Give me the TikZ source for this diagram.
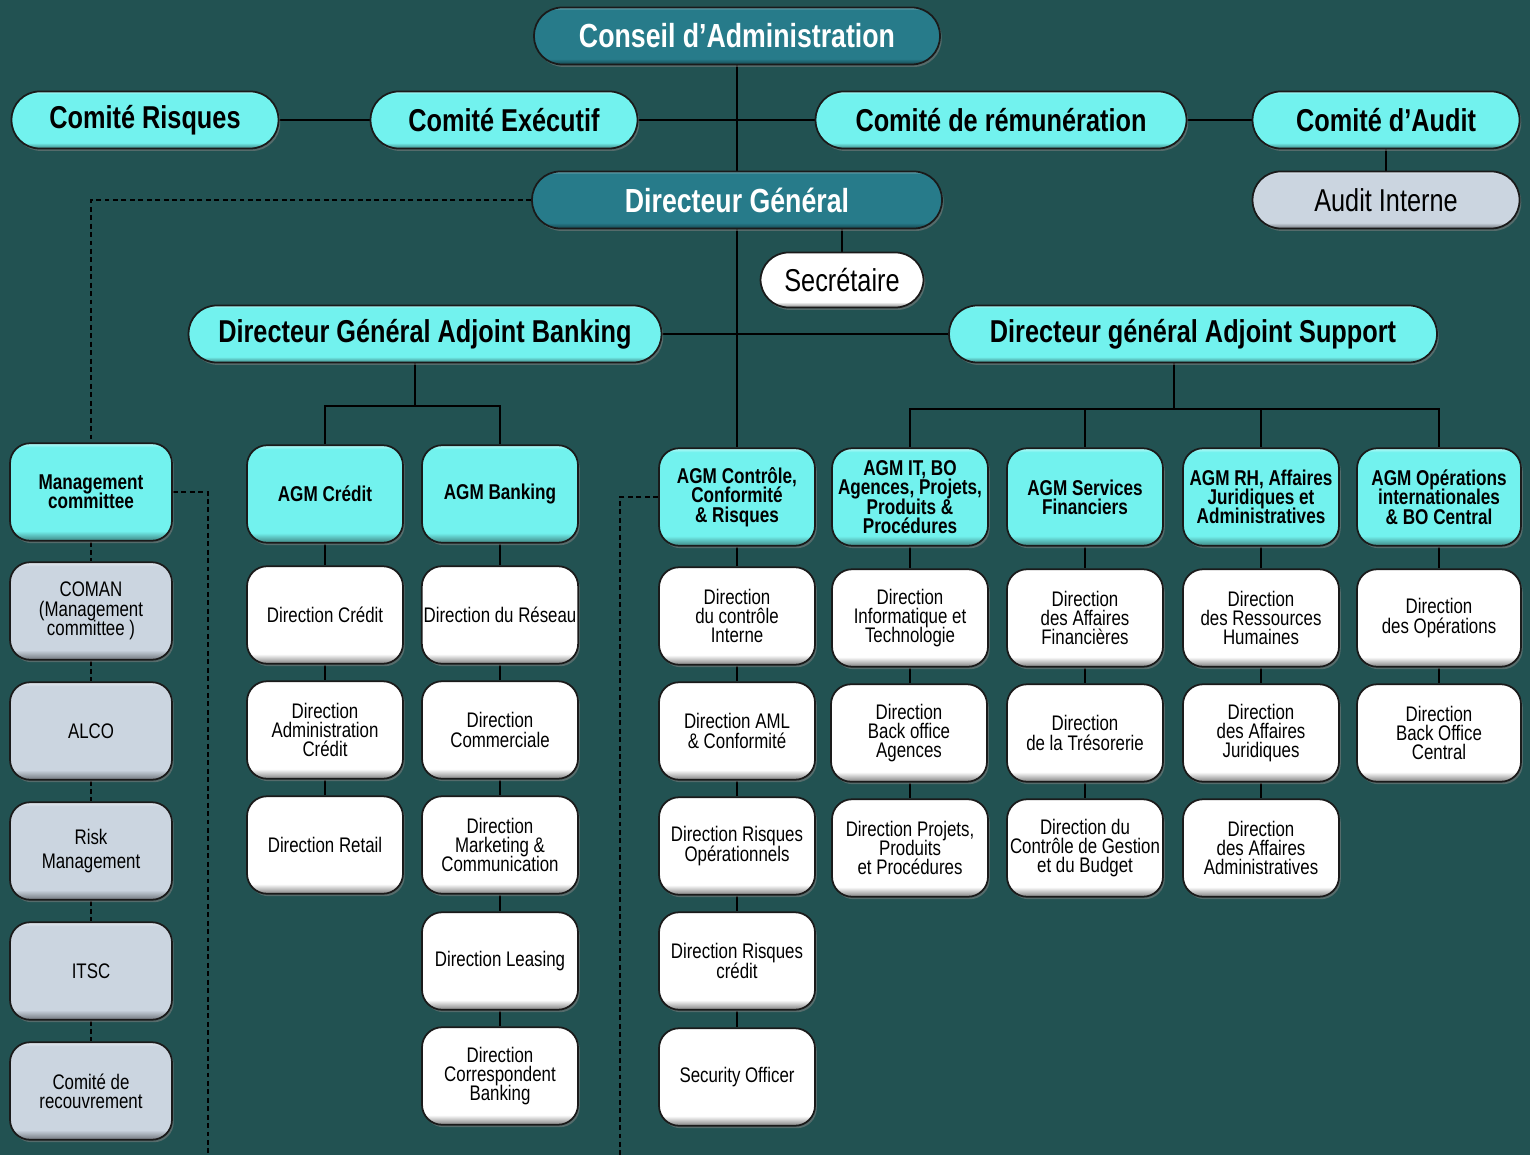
\documentclass[tikz,border=0pt]{standalone}
\usepackage{fontspec}
\setmainfont{Liberation Sans}[FakeStretch=0.8]
\usetikzlibrary{shadows}
\definecolor{bg}{HTML}{225252}
\definecolor{cyanbox}{HTML}{72F2EE}
\definecolor{tealbox}{HTML}{277B8A}
\definecolor{graybox}{HTML}{CBD5E0}
\definecolor{whitebox}{HTML}{FFFFFF}
\definecolor{edge}{HTML}{1A1A1A}
\newcommand\tightls{\lineskiplimit -50pt\relax}
\pgfdeclarelayer{background}
\pgfsetlayers{background,main}
\pgfdeclareverticalshading{shcyan}{100bp}{color(0bp)=(cyanbox!55!black); color(25bp)=(cyanbox!55!black); color(30bp)=(cyanbox); color(73bp)=(cyanbox); color(75bp)=(cyanbox!50!white); color(100bp)=(cyanbox!50!white)}
\pgfdeclareverticalshading{shteal}{100bp}{color(0bp)=(tealbox!55!black); color(25bp)=(tealbox!55!black); color(30bp)=(tealbox); color(73bp)=(tealbox); color(75bp)=(tealbox!60!white); color(100bp)=(tealbox!60!white)}
\pgfdeclareverticalshading{shgray}{100bp}{color(0bp)=(graybox!55!black); color(25bp)=(graybox!55!black); color(30bp)=(graybox); color(73bp)=(graybox); color(75bp)=(graybox!50!white); color(100bp)=(graybox!50!white)}
\pgfdeclareverticalshading{shwhite}{100bp}{color(0bp)=(white!50!black); color(25bp)=(white!50!black); color(30bp)=(white); color(100bp)=(white)}
\tikzset{
  shbase/.style={draw=edge, line width=1pt, align=center, inner sep=1pt,
    drop shadow={shadow xshift=1pt, shadow yshift=-1.4pt, opacity=0.55}},
  box/.style={shbase, rounded corners=0.4cm, minimum width=3.12cm, minimum height=1.95cm},
  agmfont/.style={font=\fontsize{12.2}{11}\selectfont\bfseries\tightls},
  dirfont/.style={font=\fontsize{12}{11}\selectfont\tightls},
  agm/.style={box, shade, shading=shcyan, agmfont},
  dir/.style={box, shade, shading=shwhite, dirfont},
  comm/.style={box, shade, shading=shgray, minimum width=3.24cm, dirfont},
  pill/.style={shbase, rounded corners=0.56cm, minimum height=1.14cm},
  pillcyan/.style={pill, shade, shading=shcyan, font=\fontsize{18}{20}\selectfont\bfseries},
  pillteal/.style={pill, shade, shading=shteal, text=white, font=\fontsize{19}{20}\selectfont\bfseries},
  pillgray/.style={pill, shade, shading=shgray, font=\fontsize{18}{20}\selectfont},
  pillwhite/.style={pill, shade, shading=shwhite, font=\fontsize{18}{20}\selectfont},
  conn/.style={draw=black, line width=1.1pt},
  dotline/.style={draw=black, line width=1.1pt, dash pattern=on 2.8pt off 2pt},
}
\begin{document}
\begin{tikzpicture}[x=0.02cm, y=-0.02cm]
\begin{pgfonlayer}{background}
\fill[bg] (0,0) rectangle (1530,1155);
\end{pgfonlayer}
\useasboundingbox (0,0) rectangle (1530,1155);
% top level
\node[pillteal, minimum width=8.12cm] (conseil) at (737,36) {Conseil d’Administration};
\node[pillcyan, minimum width=5.34cm] (crisk) at (145,120) {Comité Risques};
\node[pillcyan, minimum width=5.34cm] (cexec) at (504,120) {Comité Exécutif};
\node[pillcyan, minimum width=7.42cm] (crem) at (1001,120) {Comité de rémunération};
\node[pillcyan, minimum width=5.34cm] (caudit) at (1386,120) {Comité d’Audit};
\node[pillgray, minimum width=5.34cm] (audint) at (1386,200) {Audit Interne};
\node[pillteal, minimum width=8.2cm] (dg) at (737,200) {Directeur Général};
\node[pillwhite, minimum width=3.26cm, minimum height=1.1cm] (secr) at (842,280) {Secrétaire};
\node[pillcyan, minimum width=9.46cm] (dgab) at (425,334) {Directeur Général Adjoint Banking};
\node[pillcyan, minimum width=9.76cm] (dgas) at (1193,334) {Directeur général Adjoint Support};
% left committees
\node[comm, shading=shcyan, agmfont] (mgmt) at (91,492) {Management\\committee};
\node[comm] (coman) at (91,611) {COMAN\\(Management\\committee )};
\node[comm] (alco) at (91,731) {ALCO};
\node[comm] (risk) at (91,851) {Risk\\[3pt]Management};
\node[comm] (itsc) at (91,971) {ITSC};
\node[comm] (recouv) at (91,1091) {Comité de\\recouvrement};
% banking
\node[agm] (agmcred) at (325,494) {AGM Crédit};
\node[dir] (dcred) at (325,615) {Direction Crédit};
\node[dir] (dadmin) at (325,730) {Direction\\Administration\\Crédit};
\node[dir] (dretail) at (325,845) {Direction Retail};
\node[agm] (agmbank) at (500,494) {AGM Banking};
\node[dir] (dreseau) at (500,615) {Direction du Réseau};
\node[dir] (dcomm) at (500,730) {Direction\\Commerciale};
\node[dir] (dmark) at (500,845) {Direction\\Marketing \&\\Communication};
\node[dir] (dleas) at (500,961) {Direction Leasing};
\node[dir] (dcorr) at (500,1076) {Direction\\Correspondent\\Banking};
% controle
\node[agm] (agmctrl) at (737,497) {AGM Contrôle,\\Conformité\\\& Risques};
\node[dir] (dci) at (737,616) {Direction\\du contrôle\\Interne};
\node[dir] (daml) at (737,731) {Direction AML\\\& Conformité};
\node[dir] (drop) at (737,846) {Direction Risques\\Opérationnels};
\node[dir] (drc) at (737,961) {Direction Risques\\crédit};
\node[dir] (dsec) at (737,1077) {Security Officer};
% IT
\node[agm] (agmit) at (910,497) {AGM IT, BO\\Agences, Projets,\\Produits \&\\Procédures};
\node[dir] (dit) at (910,618) {Direction\\Informatique et\\Technologie};
\node[dir] (dbo) at (909,733) {Direction\\Back office\\Agences};
\node[dir] (dproj) at (910,848) {Direction Projets,\\Produits\\et Procédures};
% SF
\node[agm] (agmsf) at (1085,497) {AGM Services\\Financiers};
\node[dir] (daf) at (1085,618) {Direction\\des Affaires\\Financières};
\node[dir] (dtres) at (1085,733) {Direction\\de la Trésorerie};
\node[dir] (dcg) at (1085,848) {Direction du\\Contrôle de Gestion\\et du Budget};
% RH
\node[agm] (agmrh) at (1261,497) {AGM RH, Affaires\\Juridiques et\\Administratives};
\node[dir] (drh) at (1261,618) {Direction\\des Ressources\\Humaines};
\node[dir] (daj) at (1261,733) {Direction\\des Affaires\\Juridiques};
\node[dir] (dadm) at (1261,848) {Direction\\des Affaires\\Administratives};
% Ops
\node[agm, minimum width=3.28cm] (agmops) at (1439,497) {AGM Opérations\\internationales\\\& BO Central};
\node[dir, minimum width=3.28cm] (dops) at (1439,618) {Direction\\des Opérations};
\node[dir, minimum width=3.28cm] (dboc) at (1439,733) {Direction\\Back Office\\Central};
% junctions
\coordinate (bj) at (415,406);
\coordinate (sj) at (1174,409);
\coordinate (mgbot) at (208,1155);
\coordinate (ctbot) at (620,1155);
\begin{pgfonlayer}{background}
\draw[conn] (conseil.south) -- (conseil.south |- agmctrl.north);
\draw[conn] (crisk) -- (cexec);
\draw[conn] (cexec) -- (crem);
\draw[conn] (crem) -- (caudit);
\draw[conn] (caudit) -- (audint);
\draw[conn] (dg.south -| secr.north) -- (secr.north);
\draw[conn] (dgab) -- (dgas);
\draw[conn] (dgab.south -| bj) -- (bj);
\draw[conn] (agmcred.north) -- (agmcred.north |- bj) -- (agmbank.north |- bj) -- (agmbank.north);
\draw[conn] (dgas.south -| sj) -- (sj);
\draw[conn] (agmit.north) -- (agmit.north |- sj) -- (agmops.north |- sj) -- (agmops.north);
\draw[conn] (agmsf.north |- sj) -- (agmsf.north);
\draw[conn] (agmrh.north |- sj) -- (agmrh.north);
\draw[conn] (agmcred) -- (dcred) -- (dadmin) -- (dretail);
\draw[conn] (agmbank) -- (dreseau) -- (dcomm) -- (dmark) -- (dleas) -- (dcorr);
\draw[conn] (agmctrl) -- (dci) -- (daml) -- (drop) -- (drc) -- (dsec);
\draw[conn] (agmit.south) -- (dit.north);
\draw[conn] (dit.south) -- (dit.south |- dbo.north);
\draw[conn] (dproj.north |- dbo.south) -- (dproj.north);
\draw[conn] (agmsf) -- (daf) -- (dtres) -- (dcg);
\draw[conn] (agmrh) -- (drh) -- (daj) -- (dadm);
\draw[conn] (agmops) -- (dops) -- (dboc);
\draw[dotline] (dg.west) -| (mgmt.north);
\draw[dotline] (mgmt) -- (coman) -- (alco) -- (risk) -- (itsc) -- (recouv);
\draw[dotline] (mgmt.east) -| (mgbot);
\draw[dotline] (agmctrl.west) -| (ctbot);
\end{pgfonlayer}
\end{tikzpicture}
\end{document}
